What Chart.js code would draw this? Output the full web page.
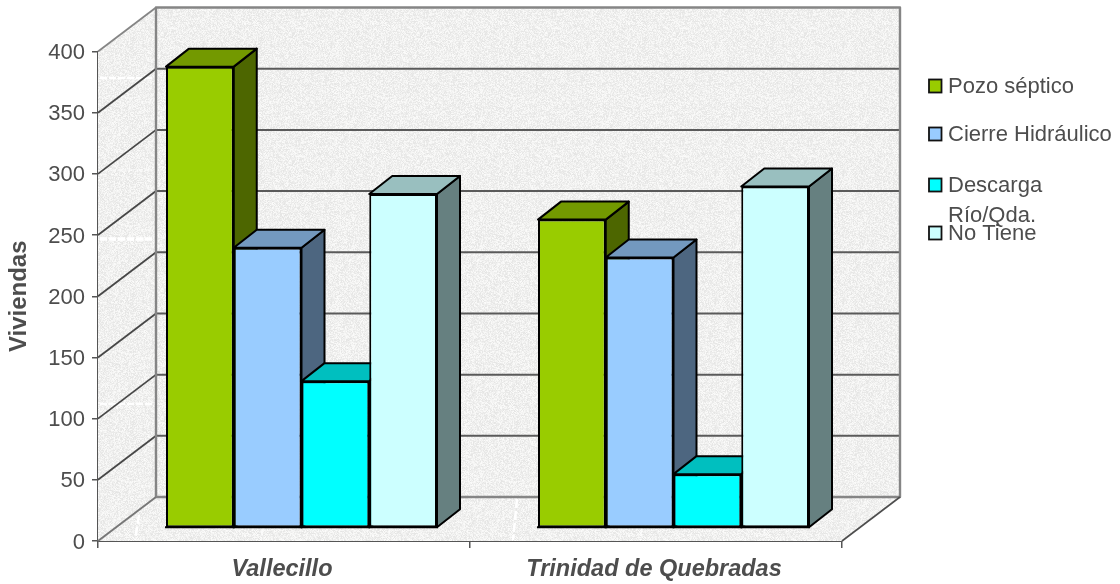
<!DOCTYPE html>
<html>
<head>
<meta charset="utf-8">
<style>
html, body { margin: 0; padding: 0; background: #fff; overflow: hidden; }
#wrap { position: relative; width: 1120px; height: 584px; }
</style>
<script src="https://cdn.jsdelivr.net/npm/chart.js@4/dist/chart.umd.min.js"></script>
</head>
<body>
<div id="wrap"><canvas id="chart" width="1120" height="584"></canvas></div>
<script>
var categories = ["Vallecillo", "Trinidad de Quebradas"];
var pozoSeptico = [377, 252];
var cierreHidraulico = [229, 221];
var descargaRio = [120, 44];
var noTiene = [273, 279];
var yTicks = [0, 50, 100, 150, 200, 250, 300, 350, 400];

var TEXT = '#4d4d4d';
var FONT = '"Liberation Sans", Arial, sans-serif';
// depth of the box and of the bars, in pixels
var BOX_DX = 58, BOX_DY = 44, BAR_DX = 23, BAR_DY = 18;
// bars stand a little way in from the front of the floor
var BAR_OFF_X = 17.5, BAR_OFF_Y = 13;

function shade(rgb, f) {
  return 'rgb(' + rgb.map(function (c) { return Math.round(c * f); }).join(',') + ')';
}

// paper like texture for the walls
function wallPattern(ctx) {
  var size = 128;
  var c = document.createElement('canvas');
  c.width = c.height = size;
  var g = c.getContext('2d');
  var img = g.createImageData(size, size);
  var s = 12345;
  for (var i = 0; i < size * size; i++) {
    s = (s * 1103515245 + 12345) & 0x7fffffff;
    var v = 229 + ((s >> 16) % 23);
    img.data[i * 4] = v;
    img.data[i * 4 + 1] = v;
    img.data[i * 4 + 2] = v - 1;
    img.data[i * 4 + 3] = 255;
  }
  g.putImageData(img, 0, 0);
  var c2 = document.createElement('canvas');
  c2.width = c2.height = size;
  var g2 = c2.getContext('2d');
  g2.filter = 'blur(0.7px)';
  g2.drawImage(c, 0, 0);
  return ctx.createPattern(c2, 'repeat');
}

function poly(ctx, pts, fill, stroke, lw) {
  ctx.beginPath();
  ctx.moveTo(pts[0][0], pts[0][1]);
  for (var i = 1; i < pts.length; i++) ctx.lineTo(pts[i][0], pts[i][1]);
  ctx.closePath();
  if (fill) { ctx.fillStyle = fill; ctx.fill(); }
  if (stroke) { ctx.strokeStyle = stroke; ctx.lineWidth = lw; ctx.lineJoin = 'round'; ctx.stroke(); }
}

function line(ctx, x1, y1, x2, y2, color, lw) {
  ctx.beginPath();
  ctx.moveTo(x1, y1);
  ctx.lineTo(x2, y2);
  ctx.strokeStyle = color;
  ctx.lineWidth = lw;
  ctx.stroke();
}

var boxPlugin = {
  id: 'box3d',
  beforeDatasetsDraw: function (chart) {
    var ctx = chart.ctx, y = chart.scales.y, a = chart.chartArea;
    var l = a.left, r = a.right, t = a.top, b = a.bottom;
    var pat = wallPattern(ctx);
    ctx.save();
    poly(ctx, [[l + BOX_DX, t - BOX_DY], [r + BOX_DX, t - BOX_DY], [r + BOX_DX, b - BOX_DY], [l + BOX_DX, b - BOX_DY]], pat);
    poly(ctx, [[l, t], [l + BOX_DX, t - BOX_DY], [l + BOX_DX, b - BOX_DY], [l, b]], pat);
    poly(ctx, [[l, b], [l + BOX_DX, b - BOX_DY], [r + BOX_DX, b - BOX_DY], [r, b]], pat);

    // pale seams of the wall texture
    ctx.setLineDash([7, 2]);
    [[78, 2.5, 1], [239, 3.5, 1], [404, 2.5, 0.9], [170, 1.5, 0.5]].forEach(function (f) {
      line(ctx, l + 2, f[0], l + BOX_DX - 2, f[0], 'rgba(255,255,255,' + f[2] + ')', f[1]);
    });
    ctx.setLineDash([9, 3]);
    [[137, 2.5, 1, 26], [263, 2, 0.7, 26], [515, 2.5, 1, 42], [642, 2, 0.7, 26], [765, 2, 0.6, 26], [390, 2, 0.6, 26]].forEach(function (f) {
      line(ctx, f[0] + 2, b - f[3], f[0] - 2, b - 1, 'rgba(255,255,255,' + f[2] + ')', f[1]);
    });
    ctx.setLineDash([]);

    yTicks.forEach(function (v) {
      if (v === 0 || v === 400) return;
      var py = y.getPixelForValue(v);
      line(ctx, l, py, l + BOX_DX, py - BOX_DY, '#474747', 1.8);
      line(ctx, l + BOX_DX, py - BOX_DY, r + BOX_DX, py - BOX_DY, '#5a5a5a', 2);
    });
    // frame of the back wall
    poly(ctx, [[l + BOX_DX, t - BOX_DY], [r + BOX_DX, t - BOX_DY], [r + BOX_DX, b - BOX_DY], [l + BOX_DX, b - BOX_DY]], null, '#858585', 2.4);
    line(ctx, l, t, l + BOX_DX, t - BOX_DY, '#858585', 1.8);
    line(ctx, l, b, l + BOX_DX, b - BOX_DY, '#777', 2);
    line(ctx, r, b, r + BOX_DX, b - BOX_DY, '#4d4d4d', 1.6);

    // sides and tops of the bars go under all the fronts, left to right
    ctx.translate(BAR_OFF_X, -BAR_OFF_Y);
    categories.forEach(function (name, k) {
      chart.data.datasets.forEach(function (ds, i) {
        var p = chart.getDatasetMeta(i).data[k].getProps(['x', 'y', 'base', 'width'], true);
        var x0 = p.x - p.width / 2, x1 = p.x + p.width / 2;
        poly(ctx, [[x1, p.y], [x1 + BAR_DX, p.y - BAR_DY], [x1 + BAR_DX, p.base - BAR_DY], [x1, p.base]], shade(ds.rgb, 0.5), '#000', 2);
        poly(ctx, [[x0, p.y], [x0 + BAR_DX, p.y - BAR_DY], [x1 + BAR_DX, p.y - BAR_DY], [x1, p.y]], shade(ds.rgb, 0.75), '#000', 2);
      });
    });
    ctx.restore();
  },
  beforeDatasetDraw: function (chart) {
    chart.ctx.save();
    chart.ctx.translate(BAR_OFF_X, -BAR_OFF_Y);
  },
  afterDatasetDraw: function (chart) {
    chart.ctx.restore();
  },
  afterDatasetsDraw: function (chart) {
    // closing line under the fronts
    var ctx = chart.ctx;
    ctx.save();
    ctx.translate(BAR_OFF_X, -BAR_OFF_Y);
    chart.data.datasets.forEach(function (ds, i) {
      chart.getDatasetMeta(i).data.forEach(function (bar) {
        var p = bar.getProps(['x', 'base', 'width'], true);
        line(ctx, p.x - p.width / 2 - 1, p.base, p.x + p.width / 2 + 1, p.base, '#000', 2);
      });
    });
    ctx.restore();
  },
  afterDraw: function (chart) {
    var ctx = chart.ctx;
    ctx.save();
    // legend, spaced by hand as in the original
    var legendY = [86, 134, 185, 233];
    var legendText = [["Pozo séptico"], ["Cierre Hidráulico"], ["Descarga", "Río/Qda."], ["No Tiene"]];
    ctx.font = '22px ' + FONT;
    ctx.textBaseline = 'middle';
    ctx.textAlign = 'left';
    chart.data.datasets.forEach(function (ds, i) {
      ctx.fillStyle = ds.backgroundColor;
      ctx.strokeStyle = '#111';
      ctx.lineWidth = 1.8;
      ctx.fillRect(929, legendY[i] - 6.5, 12.5, 13);
      ctx.strokeRect(929, legendY[i] - 6.5, 12.5, 13);
      ctx.fillStyle = TEXT;
      legendText[i].forEach(function (s, j) {
        ctx.fillText(s, 948, legendY[i] + 1 + j * 30);
      });
    });
    ctx.restore();
  }
};

function barSet(label, data, rgb) {
  return {
    label: label,
    data: data,
    rgb: rgb,
    clip: false,
    backgroundColor: 'rgb(' + rgb.join(',') + ')',
    borderColor: '#000',
    borderWidth: 2,
    borderSkipped: false,
    categoryPercentage: 0.7285,
    barPercentage: 1
  };
}

new Chart(document.getElementById('chart'), {
  type: 'bar',
  data: {
    labels: categories,
    datasets: [
      barSet('Pozo séptico', pozoSeptico, [153, 204, 0]),
      barSet('Cierre Hidráulico', cierreHidraulico, [153, 204, 255]),
      barSet('Descarga Río/Qda.', descargaRio, [0, 255, 255]),
      barSet('No Tiene', noTiene, [204, 255, 255])
    ]
  },
  options: {
    responsive: false,
    animation: false,
    layout: { padding: { top: 51.5, right: 278, bottom: 0, left: 0 } },
    plugins: { legend: { display: false }, tooltip: { enabled: false } },
    scales: {
      x: {
        afterFit: function (s) { s.height = 43; },
        grid: { drawOnChartArea: false, color: '#555', lineWidth: 1.5, tickLength: 7 },
        border: { color: '#555', width: 2 },
        ticks: { color: TEXT, font: { family: FONT, size: 23.5, style: 'italic', weight: 'bold' }, padding: 7, labelOffset: -2, maxRotation: 0 }
      },
      y: {
        min: 0,
        max: 400,
        afterFit: function (s) { s.width = 98; },
        grid: { drawOnChartArea: false, color: '#555', lineWidth: 1.5, tickLength: 6 },
        border: { color: '#555', width: 2 },
        ticks: { stepSize: 50, color: TEXT, font: { family: FONT, size: 22 }, padding: 7, labelOffset: 1.5 },
        title: { display: true, text: 'Viviendas', color: TEXT, font: { family: FONT, size: 24, weight: 'bold' }, padding: { top: 5, bottom: 0 } }
      }
    }
  },
  plugins: [boxPlugin]
});
</script>
</body>
</html>
